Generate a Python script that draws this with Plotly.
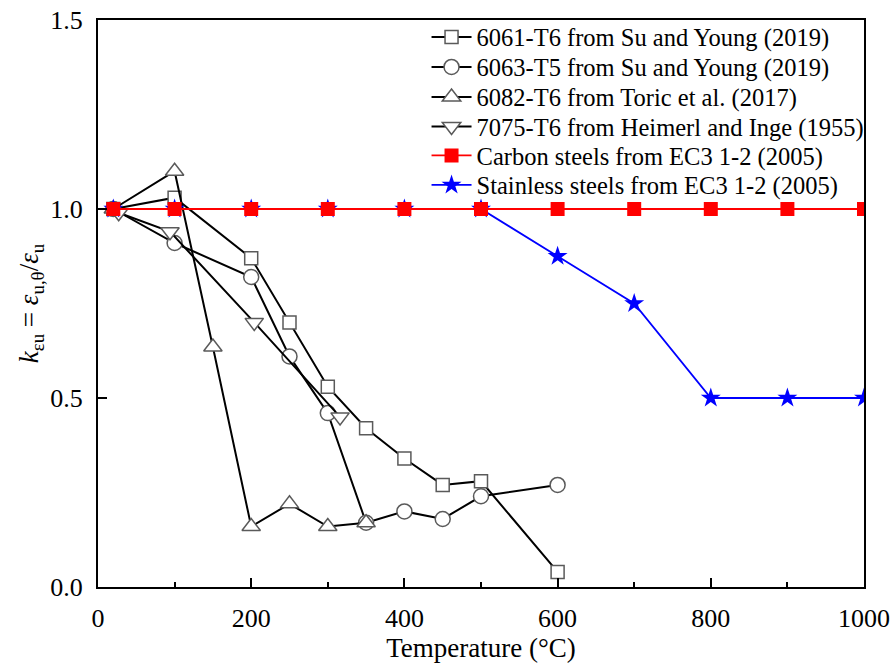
import plotly.graph_objects as go

# ---- data ----
t_6061 = [20, 100, 200, 250, 300, 350, 400, 450, 500, 600]
k_6061 = [1.00, 1.03, 0.87, 0.70, 0.53, 0.42, 0.34, 0.27, 0.28, 0.04]

t_6063 = [20, 100, 200, 250, 300, 350, 400, 450, 500, 600]
k_6063 = [1.00, 0.91, 0.82, 0.61, 0.46, 0.17, 0.20, 0.18, 0.24, 0.27]

t_6082 = [20, 100, 150, 200, 250, 300, 350]
k_6082 = [1.00, 1.10, 0.635, 0.16, 0.22, 0.16, 0.17]

t_7075 = [27, 94, 204, 316]
k_7075 = [0.99, 0.94, 0.70, 0.45]

t_carbon = [20, 100, 200, 300, 400, 500, 600, 700, 800, 900, 1000]
k_carbon = [1.0, 1.0, 1.0, 1.0, 1.0, 1.0, 1.0, 1.0, 1.0, 1.0, 1.0]

t_stain = [20, 100, 200, 300, 400, 500, 600, 700, 800, 900, 1000]
k_stain = [1.0, 1.0, 1.0, 1.0, 1.0, 1.0, 0.875, 0.75, 0.5, 0.5, 0.5]

names = [
    "6061-T6 from Su and Young (2019)",
    "6063-T5 from Su and Young (2019)",
    "6082-T6 from Toric et al. (2017)",
    "7075-T6 from Heimerl and Inge (1955)",
    "Carbon steels from EC3 1-2 (2005)",
    "Stainless steels from EC3 1-2 (2005)",
]

x_ticks = [0, 200, 400, 600, 800, 1000]
y_ticks = [0.0, 0.5, 1.0, 1.5]
y_ticklabels = ["0.0", "0.5", "1.0", "1.5"]

FONT = "Liberation Serif"
grey = "#5a5a5a"

W, H = 896, 668
M_L, M_R, M_T, M_B = 98, 32, 20, 81
plot_h = H - M_T - M_B

# legend row centres (pixels from top of page) -> paper coords
row_px = [37, 67, 97, 126.5, 155.5, 185]
row_paper = [1 - (p - M_T) / plot_h for p in row_px]
legend_ids = ["legend", "legend2", "legend3", "legend4", "legend5", "legend6"]

fig = go.Figure()

def hollow(t, k, i, symbol, size):
    fig.add_trace(go.Scatter(
        x=t, y=k, name=names[i], mode="lines+markers", legend=legend_ids[i],
        line=dict(color="black", width=2),
        marker=dict(symbol=symbol, size=size, color="white",
                    line=dict(color=grey, width=1.5)),
    ))

hollow(t_6061, k_6061, 0, "square", 13)
hollow(t_6063, k_6063, 1, "circle", 15)
hollow(t_6082, k_6082, 2, "triangle-up", 16)
hollow(t_7075, k_7075, 3, "triangle-down", 16)

fig.add_trace(go.Scatter(
    x=t_stain, y=k_stain, name=names[5], mode="lines+markers", legend=legend_ids[5],
    line=dict(color="#0000ff", width=1.8),
    marker=dict(symbol="star", size=15, color="#0000ff", line=dict(width=0)),
))
fig.add_trace(go.Scatter(
    x=t_carbon, y=k_carbon, name=names[4], mode="lines+markers", legend=legend_ids[4],
    line=dict(color="#ff0000", width=1.8),
    marker=dict(symbol="square", size=14, color="#ff0000", line=dict(width=0)),
))

axis_common = dict(
    showgrid=False, zeroline=False, showline=True, linecolor="black",
    linewidth=2, mirror=True, ticks="inside", tickcolor="black",
    tickwidth=2, ticklen=9, tickfont=dict(family=FONT, size=26, color="black"),
)

fig.update_xaxes(
    range=[0, 1000], tickvals=x_ticks, ticklabelstandoff=7,
    minor=dict(dtick=100, ticks="inside", ticklen=5, tickwidth=1.5, tickcolor="black"),
    title=dict(text="Temperature (°C)", font=dict(family=FONT, size=27, color="black"),
               standoff=6),
    **axis_common,
)
fig.update_yaxes(
    range=[0, 1.5], tickvals=y_ticks, ticktext=y_ticklabels, ticklabelstandoff=8,
    title=dict(text="<i>k</i><sub>εu</sub> = <i>ε</i><sub>u,θ</sub>/<i>ε</i><sub>u</sub>",
               font=dict(family=FONT, size=27, color="black"), standoff=4),
    **axis_common,
)

legend_style = dict(
    x=0.4289, xanchor="left", yanchor="middle",
    font=dict(family=FONT, size=24.5, color="black"),
    bgcolor="rgba(0,0,0,0)", borderwidth=0, itemwidth=40,
)
layout_legends = {lid: dict(y=yp, **legend_style) for lid, yp in zip(legend_ids, row_paper)}

fig.update_layout(
    width=W, height=H,
    margin=dict(l=M_L, r=M_R, t=M_T, b=M_B, autoexpand=False),
    paper_bgcolor="white", plot_bgcolor="white",
    showlegend=True,
    **layout_legends,
)

fig.write_html("out.html")
